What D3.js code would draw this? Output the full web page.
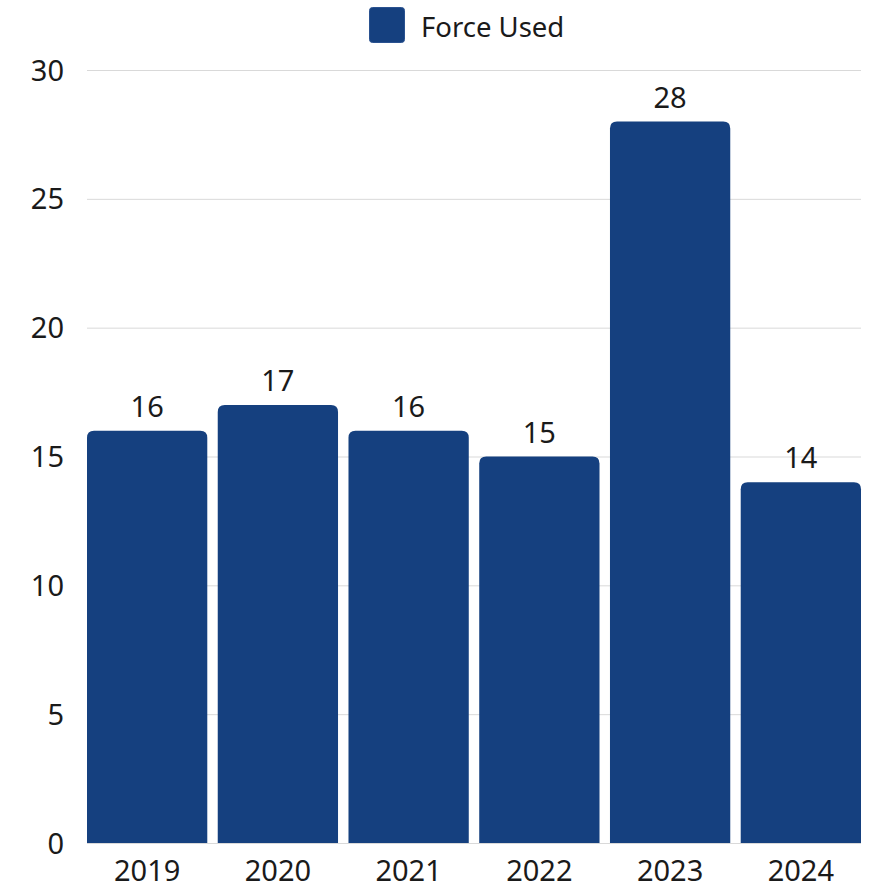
<!DOCTYPE html>
<html><head><meta charset="utf-8">
<script src="https://cdn.jsdelivr.net/npm/d3@7"></script>
<style>body{margin:0;background:#fff}svg{display:block}text{font-family:"Noto Sans","Open Sans",sans-serif;fill:#1a1a1a}</style>
</head><body>
<svg id="c" width="876" height="888"></svg>
<script>
const categories = ["2019","2020","2021","2022","2023","2024"];
const values = [16,17,16,15,28,14];
const seriesName = "Force Used";
const yTicks = [0,5,10,15,20,25,30];

(function(){
const svg = d3.select("#c");
const mLeft = 87, mRight = 861, mTop = 70, mBottom = 843;
const x = d3.scaleBand().domain(categories).range([mLeft,mRight]).paddingInner(0.08).paddingOuter(0);
const y = d3.scaleLinear().domain([0,30]).range([mBottom,mTop]);
const color = "#15407f";
const fs = 29;

svg.append("g").selectAll("line").data(yTicks).join("line")
  .attr("x1",mLeft).attr("x2",mRight)
  .attr("y1",d=>y(d)+0.5).attr("y2",d=>y(d)+0.5)
  .attr("stroke","#d9d9d9").attr("stroke-width",1);

svg.append("g").selectAll("text").data(yTicks).join("text")
  .attr("x",64).attr("y",d=>y(d)+10.5).attr("text-anchor","end")
  .attr("font-size",fs).text(d=>d);

const r = 7;
function barPath(x0,w,yTop,yBot){
  return `M${x0},${yBot}V${yTop+r}Q${x0},${yTop} ${x0+r},${yTop}H${x0+w-r}Q${x0+w},${yTop} ${x0+w},${yTop+r}V${yBot}Z`;
}
svg.append("g").selectAll("path").data(values).join("path")
  .attr("d",(d,i)=>barPath(x(categories[i]),x.bandwidth(),y(d),y(0)))
  .attr("fill",color);

svg.append("g").selectAll("text").data(values).join("text")
  .attr("x",(d,i)=>x(categories[i])+x.bandwidth()/2)
  .attr("y",d=>y(d)-14).attr("text-anchor","middle")
  .attr("font-size",fs).text(d=>d);

svg.append("g").selectAll("text").data(categories).join("text")
  .attr("x",d=>x(d)+x.bandwidth()/2).attr("y",881).attr("text-anchor","middle")
  .attr("font-size",fs).text(d=>d);

svg.append("rect").attr("x",369.5).attr("y",7.5).attr("width",35).attr("height",35).attr("rx",3)
  .attr("fill",color).attr("stroke","#2a5290").attr("stroke-width",1);
svg.append("text").attr("x",421).attr("y",37).attr("font-size",27.5).text(seriesName);
})();
</script>
</body></html>
